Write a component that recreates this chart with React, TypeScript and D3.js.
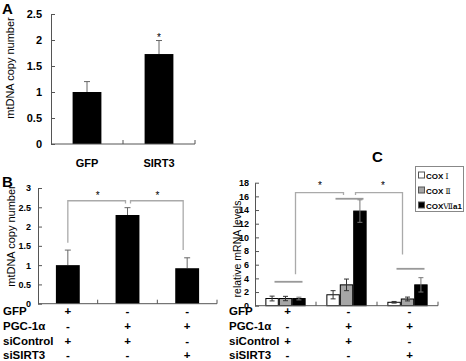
import React, { useEffect, useRef } from 'react';
import * as d3 from 'd3';

// panel A
const groupsA = ['GFP', 'SIRT3'];
const valuesA = [1.0, 1.73];
const errorsA = [0.2, 0.26];
const ticksA = [0, 0.5, 1, 1.5, 2, 2.5];

// panel B
const groupsB = ['b1', 'b2', 'b3'];
const valuesB = [1.0, 2.3, 0.92];
const errorsB = [0.39, 0.19, 0.27];
const ticksB = [0, 0.5, 1, 1.5, 2, 2.5, 3];

// panel C
const groupsC = ['c1', 'c2', 'c3'];
const seriesC = ['COX Ⅰ', 'COX Ⅱ', 'COXⅦa1'];
const coxI = [1.05, 1.6, 0.5];
const coxII = [1.05, 3.05, 0.98];
const coxVIIa1 = [1.05, 13.85, 3.05];
const errCoxI = [0.35, 0.6, 0.12];
const errCoxII = [0.32, 0.85, 0.28];
const errCoxVIIa1 = [0.2, 1.65, 1.05];
const groupLevelsC = [3.5, 15.65, 5.4];
const ticksC = [0, 2, 4, 6, 8, 10, 12, 14, 16, 18];

// treatment table under B and C
const rowLabels = ['GFP', 'PGC-1α', 'siControl', 'siSIRT3'];
const rowSigns = [
  ['+', '-', '-'],
  ['-', '+', '+'],
  ['+', '+', '-'],
  ['-', '-', '+'],
];

const FONT = '"Liberation Sans", Arial, sans-serif';
const AXIS = '#555';

function yAxis(svg: any, y: any, ticks: number[], x: number, size: number, pad: number) {
  const g = svg.append('g')
    .attr('transform', 'translate(' + x + ',0)')
    .call(d3.axisLeft(y).tickValues(ticks).tickSizeInner(-4).tickSizeOuter(0)
      .tickPadding(pad).tickFormat((d: any) => String(d)));
  g.select('.domain').attr('stroke', AXIS);
  g.selectAll('line').attr('stroke', AXIS);
  g.selectAll('text').attr('font-family', FONT).attr('font-weight', 'bold')
    .attr('font-size', size).attr('fill', '#000');
}

function xAxis(svg: any, x: any, y0: number) {
  const [r0, r1] = x.range();
  svg.append('line').attr('x1', r0).attr('x2', r1).attr('y1', y0).attr('y2', y0)
    .attr('stroke', AXIS);
  svg.selectAll(null).data(x.domain()).enter().append('line')
    .attr('x1', (d: any) => x(d) + x.bandwidth()).attr('x2', (d: any) => x(d) + x.bandwidth())
    .attr('y1', y0).attr('y2', y0 - 4).attr('stroke', AXIS);
}

function label(svg: any, text: string, x: number, y: number, size: number, opts: any = {}) {
  const t = svg.append('text').attr('x', x).attr('y', y).text(text)
    .attr('font-family', FONT).attr('font-size', size).attr('fill', '#000')
    .attr('font-weight', opts.bold === false ? 'normal' : 'bold')
    .attr('text-anchor', opts.anchor || 'start');
  if (opts.rotate) t.attr('transform', 'rotate(-90,' + x + ',' + y + ')');
  return t;
}

function table(svg: any, centers: number[], x0: number, dx: number) {
  const rowY = [314.5, 329.5, 344.5, 358.5];
  rowLabels.forEach((r, i) => {
    label(svg, r, x0, rowY[i], 11.5);
    rowSigns[i].forEach((s, j) => {
      label(svg, s, centers[j] + dx, rowY[i], 11.5, { anchor: 'middle' });
    });
  });
}

function bracket(svg: any, xl: number, xr: number, yl: number, yr: number, yt: number) {
  svg.append('path')
    .attr('d', 'M' + xl + ',' + yl + 'V' + yt + 'H' + xr + 'V' + yr)
    .attr('fill', 'none').attr('stroke', '#aaa').attr('stroke-width', 1.3);
}

function panelA(svg: any) {
  const x = d3.scaleBand().domain(groupsA).range([51, 195]);
  const y = d3.scaleLinear().domain([0, 2.5]).range([144, 14]);
  const w = x.bandwidth() * 0.4;
  groupsA.forEach((g, i) => {
    const cx = (x(g) as number) + x.bandwidth() / 2;
    const top = y(valuesA[i] + errorsA[i]);
    svg.append('line').attr('x1', cx).attr('x2', cx).attr('y1', y(valuesA[i]))
      .attr('y2', top).attr('stroke', '#666');
    svg.append('line').attr('x1', cx - 3).attr('x2', cx + 3)
      .attr('y1', top).attr('y2', top).attr('stroke', '#666');
    svg.append('rect').attr('x', cx - w / 2).attr('width', w)
      .attr('y', y(valuesA[i])).attr('height', y(0) - y(valuesA[i])).attr('fill', '#000');
    label(svg, g, cx, 167, 11, { anchor: 'middle' });
  });
  const sx = (x('SIRT3') as number) + x.bandwidth() / 2;
  label(svg, '*', sx, y(valuesA[1] + errorsA[1]), 10, { anchor: 'middle', bold: false });
  yAxis(svg, y, ticksA, 51, 11, 9);
  xAxis(svg, x, 144);
  label(svg, 'mtDNA copy number', 14, 68, 11, { anchor: 'middle', bold: false, rotate: true });
  label(svg, 'A', 2, 14, 15);
}

function panelB(svg: any) {
  const x = d3.scaleBand().domain(groupsB).range([38, 217]);
  const y = d3.scaleLinear().domain([0, 3]).range([303.7, 188]);
  const w = x.bandwidth() * 0.4;
  const centers = groupsB.map(g => (x(g) as number) + x.bandwidth() / 2);
  groupsB.forEach((g, i) => {
    const cx = centers[i];
    const top = y(valuesB[i] + errorsB[i]);
    svg.append('line').attr('x1', cx).attr('x2', cx).attr('y1', y(valuesB[i])).attr('y2', top).attr('stroke', '#666');
    svg.append('line').attr('x1', cx - 3).attr('x2', cx + 3).attr('y1', top).attr('y2', top).attr('stroke', '#666');
    svg.append('rect').attr('x', cx - w / 2).attr('width', w)
      .attr('y', y(valuesB[i])).attr('height', y(0) - y(valuesB[i])).attr('fill', '#000');
  });
  bracket(svg, centers[0], centers[1] - 2, y(1.58), y(2.6), y(2.67));
  bracket(svg, centers[1] + 3, centers[2] - 4, y(2.6), y(1.39), y(2.67));
  label(svg, '*', (centers[0] + centers[1]) / 2, y(2.67) - 2, 10, { anchor: 'middle', bold: false });
  label(svg, '*', (centers[1] + centers[2]) / 2, y(2.67) - 2, 10, { anchor: 'middle', bold: false });
  yAxis(svg, y, ticksB, 38, 9, 7);
  xAxis(svg, x, 303.7);
  label(svg, 'mtDNA copy number', 15, 236, 11, { anchor: 'middle', bold: false, rotate: true });
  label(svg, 'B', 2, 187, 15);
  table(svg, centers, 3, 0);
}

function panelC(svg: any) {
  const x = d3.scaleBand().domain(groupsC).range([255, 438]);
  const y = d3.scaleLinear().domain([0, 18]).range([305.7, 182.7]);
  const gw = x.bandwidth() * 0.66;
  const xs = d3.scaleBand().domain(seriesC).range([-gw / 2, gw / 2]);
  const fills = ['#fff', '#a6a6a6', '#000'];
  const vals = [coxI, coxII, coxVIIa1];
  const errs = [errCoxI, errCoxII, errCoxVIIa1];
  const centers = groupsC.map(g => (x(g) as number) + x.bandwidth() / 2);
  groupsC.forEach((g, i) => {
    seriesC.forEach((s, k) => {
      const bx = centers[i] + (xs(s) as number);
      const v = vals[k][i];
      const e = errs[k][i];
      svg.append('rect').attr('x', bx + 0.5).attr('width', xs.bandwidth() - 1)
        .attr('y', y(v)).attr('height', y(0) - y(v))
        .attr('fill', fills[k]).attr('stroke', '#000').attr('stroke-width', 1);
      const cx = bx + xs.bandwidth() / 2;
      const col = k === 2 ? '#777' : '#333';
      svg.append('path')
        .attr('d', 'M' + (cx - 2.5) + ',' + y(v + e) + 'H' + (cx + 2.5) + 'M' + cx + ',' + y(v + e) + 'V' + y(v - e) +
          'M' + (cx - 2.5) + ',' + y(v - e) + 'H' + (cx + 2.5))
        .attr('fill', 'none').attr('stroke', col).attr('stroke-width', 1);
    });
    // level line over each group
    svg.append('line').attr('x1', centers[i] - 11).attr('x2', centers[i] + 17)
      .attr('y1', y(groupLevelsC[i])).attr('y2', y(groupLevelsC[i]))
      .attr('stroke', '#999').attr('stroke-width', 1.8);
  });
  bracket(svg, centers[0] + 10, centers[1] - 3, y(4.6), y(16.2), y(16.55));
  bracket(svg, centers[1] + 9, centers[2] - 5, y(16.2), y(7.5), y(16.55));
  label(svg, '*', 320, y(16.55) - 4, 10, { anchor: 'middle', bold: false });
  label(svg, '*', 383, y(16.55) - 4, 10, { anchor: 'middle', bold: false });
  yAxis(svg, y, ticksC, 255, 9, 6);
  xAxis(svg, x, 305.7);
  label(svg, 'relative mRNA levels', 241, 249, 10.5, { anchor: 'middle', bold: false, rotate: true });
  label(svg, 'C', 372, 162, 15);
  table(svg, centers, 229, 2);

  // legend
  const lg = svg.append('g');
  lg.append('rect').attr('x', 415.5).attr('y', 166.5).attr('width', 48).attr('height', 45)
    .attr('fill', '#fff').attr('stroke', '#888');
  seriesC.forEach((s, k) => {
    const cy = 175.5 + k * 15;
    lg.append('rect').attr('x', 418.5).attr('y', cy - 3.5).attr('width', 6).attr('height', 6)
      .attr('fill', fills[k]).attr('stroke', '#555');
    const t = lg.append('text').attr('x', 426).attr('y', cy + 3)
      .attr('font-family', FONT).attr('font-size', 8).attr('font-weight', 'bold').attr('fill', '#000');
    const m = s.match(/^(COX\s?)(.*)$/) as RegExpMatchArray;
    t.append('tspan').text(m[1]);
    const rest = m[2];
    t.append('tspan').text(rest[0])
      .attr('font-family', '"DejaVu Serif", serif').attr('font-weight', 'normal').attr('font-size', 7.5);
    if (rest.length > 1) t.append('tspan').text(rest.slice(1));
  });
}

export default function App() {
  const ref = useRef<SVGSVGElement>(null);
  useEffect(() => {
    const svg = d3.select(ref.current);
    svg.selectAll('*').remove();
    panelA(svg);
    panelB(svg);
    panelC(svg);
  }, []);
  return (
    <svg ref={ref} width={466} height={361}
      style={{ position: 'absolute', left: 0, top: 0, background: '#fff' }} />
  );
}
